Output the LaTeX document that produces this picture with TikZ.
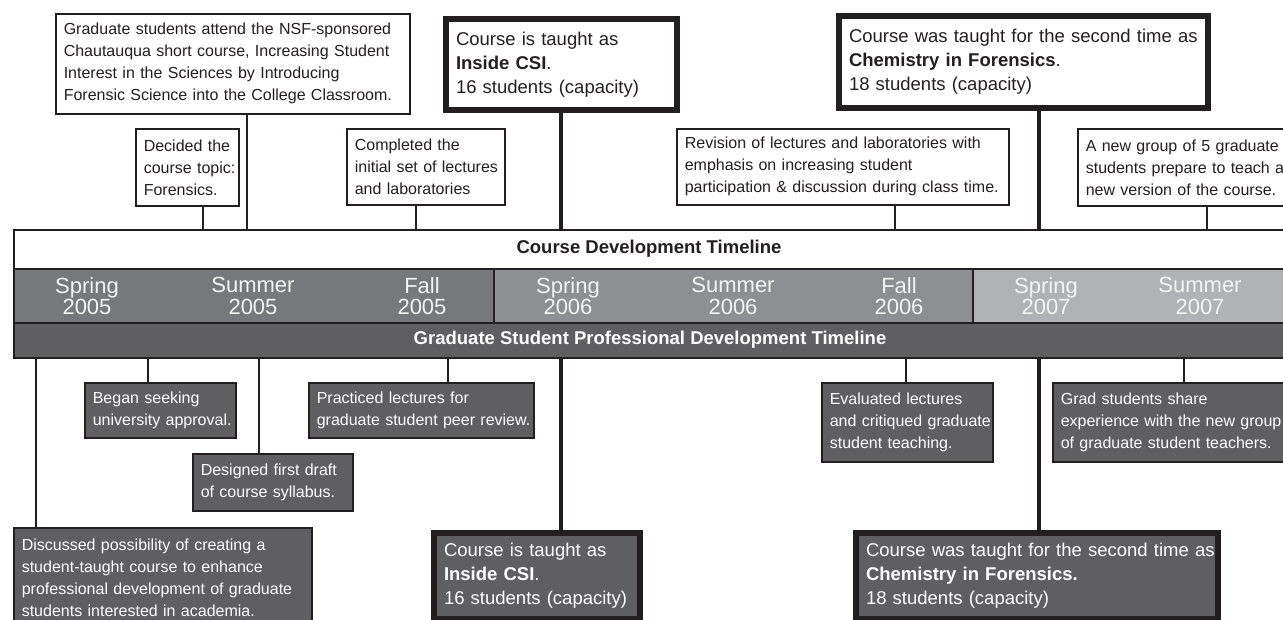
\documentclass[tikz,border=0pt]{standalone}
\usepackage{fontspec}
\setmainfont{Liberation Sans}
\definecolor{ink}{HTML}{231F20}
\definecolor{gdark}{HTML}{5F5F62}
\definecolor{sA}{HTML}{77787B}
\definecolor{sB}{HTML}{8E8F92}
\definecolor{sC}{HTML}{B1B2B5}
\definecolor{stext}{HTML}{F4F4F4}
\begin{document}
\begin{tikzpicture}[x=1pt,y=-1pt,
  tbox/.style={draw=ink, line width=1.6pt, fill=white, text=ink, anchor=north west,
    align=left, inner xsep=8pt, inner ysep=0pt, font=\fontsize{16}{22}\selectfont},
  bigtop/.style={tbox, line width=6pt, inner xsep=10pt, font=\fontsize{18.5}{24}\selectfont},
  dbox/.style={tbox, fill=gdark, text=white},
  bigbot/.style={bigtop, fill=gdark, text=white},
  band/.style={draw=ink, line width=1.8pt, anchor=north west, inner sep=0pt},
  season/.style={text=stext, align=center, font=\fontsize{22}{21.5}\selectfont},
  bandtitle/.style={font=\fontsize{18.5}{22}\selectfont\bfseries},
  conn/.style={draw=ink, line width=1.2pt},
  bigconn/.style={draw=ink, line width=4.5pt}]
\useasboundingbox (0,0) rectangle (1283,620);
\clip (0,0) rectangle (1283,620);
\fill[white] (0,0) rectangle (1283,620);

% ---- timeline bands ----
\node[band, fill=white, minimum width=1272pt, minimum height=39pt] (cdt) at (13,229) {};
\node[band, fill=sA, minimum width=480pt, minimum height=54pt] (sa) at (13,268) {};
\node[band, fill=sB, minimum width=479pt, minimum height=54pt] (sb) at (493,268) {};
\node[band, fill=sC, minimum width=313pt, minimum height=54pt] (sc) at (972,268) {};
\node[band, fill=gdark, minimum width=1272pt, minimum height=35pt] (gsp) at (13,322) {};

\node[bandtitle, text=ink] (cdttitle) at (649,249) {Course Development Timeline};
\node[bandtitle, text=white] (gsptitle) at (650,340) {Graduate Student Professional Development Timeline};

\node[season] (l1) at (87,296) {Spring\\2005};
\node[season] (l2) at (253,296) {Summer\\2005};
\node[season] (l3) at (422,296) {Fall\\2005};
\node[season] (l4) at (568,296) {Spring\\2006};
\node[season] (l5) at (733,296) {Summer\\2006};
\node[season] (l6) at (899,296) {Fall\\2006};
\node[season] (l7) at (1046,296) {Spring\\2007};
\node[season] (l8) at (1200,296) {Summer\\2007};

% ---- top (course development) boxes ----
\node[tbox, text width=338pt, minimum height=100pt] (chaut) at (55,13)
  {\mbox{Graduate students attend the NSF-sponsored}\\
   \mbox{Chautauqua short course, Increasing Student}\\
   \mbox{Interest in the Sciences by Introducing}\\
   \mbox{Forensic Science into the College Classroom.}};
\node[tbox, text width=87pt, minimum height=77pt] (decided) at (135,128)
  {\mbox{Decided the}\\ \mbox{course topic:}\\ \mbox{Forensics.}};
\node[tbox, text width=142pt, minimum height=76pt] (completed) at (346,128)
  {\mbox{Completed the}\\ \mbox{initial set of lectures}\\ \mbox{and laboratories}};
\node[bigtop, text width=211pt, minimum height=91pt] (insideT) at (443,16)
  {\mbox{Course is taught as}\\ \mbox{\textbf{Inside CSI}.}\\ \mbox{16 students (capacity)}};
\node[tbox, text width=316pt, minimum height=76pt] (revision) at (676,128)
  {\mbox{Revision of lectures and laboratories with}\\
   \mbox{emphasis on increasing student}\\
   \mbox{participation \& discussion during class time.}};
\node[bigtop, text width=349pt, minimum height=92pt] (chemT) at (836,13)
  {\mbox{Course was taught for the second time as}\\
   \mbox{\textbf{Chemistry in Forensics}.}\\ \mbox{18 students (capacity)}};
\node[tbox, text width=214pt, minimum height=77pt] (newgroup) at (1077,128)
  {\mbox{A new group of 5 graduate}\\ \mbox{students prepare to teach a}\\
   \mbox{new version of the course.}};

% ---- bottom (professional development) boxes ----
\node[dbox, text width=282pt, minimum height=99pt] (discussed) at (13,527)
  {\mbox{Discussed possibility of creating a}\\
   \mbox{student-taught course to enhance}\\
   \mbox{professional development of graduate}\\
   \mbox{students interested in academia.}};
\node[dbox, text width=135pt, minimum height=55pt] (began) at (84,382)
  {\mbox{Began seeking}\\ \mbox{university approval.}};
\node[dbox, text width=144pt, minimum height=57pt] (designed) at (192,453)
  {\mbox{Designed first draft}\\ \mbox{of course syllabus.}};
\node[dbox, text width=209pt, minimum height=55pt] (practiced) at (308,382)
  {\mbox{Practiced lectures for}\\ \mbox{graduate student peer review.}};
\node[bigbot, text width=186pt, minimum height=86pt] (insideB) at (431,530)
  {\mbox{Course is taught as}\\ \mbox{\textbf{Inside CSI}.}\\ \mbox{16 students (capacity)}};
\node[dbox, text width=155pt, minimum height=79pt] (evaluated) at (821,382)
  {\mbox{Evaluated lectures}\\ \mbox{and critiqued graduate}\\ \mbox{student teaching.}};
\node[dbox, text width=224pt, minimum height=79pt] (share) at (1052,382)
  {\mbox{Grad students share}\\ \mbox{experience with the new group}\\
   \mbox{of graduate student teachers.}};
\node[bigbot, text width=342pt, minimum height=86pt] (chemB) at (853,530)
  {\mbox{Course was taught for the second time as}\\
   \mbox{\textbf{Chemistry in Forensics.}}\\ \mbox{18 students (capacity)}};

% ---- connectors: top ----
\draw[conn] (247,0 |- chaut.south) -- (247,0 |- cdt.north);
\draw[conn] (203,0 |- decided.south) -- (203,0 |- cdt.north);
\draw[conn] (416,0 |- completed.south) -- (416,0 |- cdt.north);
\draw[bigconn] (561,0 |- insideT.south) -- (561,0 |- cdt.north);
\draw[conn] (895,0 |- revision.south) -- (895,0 |- cdt.north);
\draw[bigconn] (1039,0 |- chemT.south) -- (1039,0 |- cdt.north);
\draw[conn] (1207,0 |- newgroup.south) -- (1207,0 |- cdt.north);

% ---- connectors: bottom ----
\draw[conn] (36,0 |- gsp.south) -- (36,0 |- discussed.north);
\draw[conn] (148,0 |- gsp.south) -- (148,0 |- began.north);
\draw[conn] (259,0 |- gsp.south) -- (259,0 |- designed.north);
\draw[conn] (448,0 |- gsp.south) -- (448,0 |- practiced.north);
\draw[bigconn] (561,0 |- gsp.south) -- (561,0 |- insideB.north);
\draw[conn] (906,0 |- gsp.south) -- (906,0 |- evaluated.north);
\draw[bigconn] (1039,0 |- gsp.south) -- (1039,0 |- chemB.north);
\draw[conn] (1184,0 |- gsp.south) -- (1184,0 |- share.north);
\end{tikzpicture}
\end{document}
